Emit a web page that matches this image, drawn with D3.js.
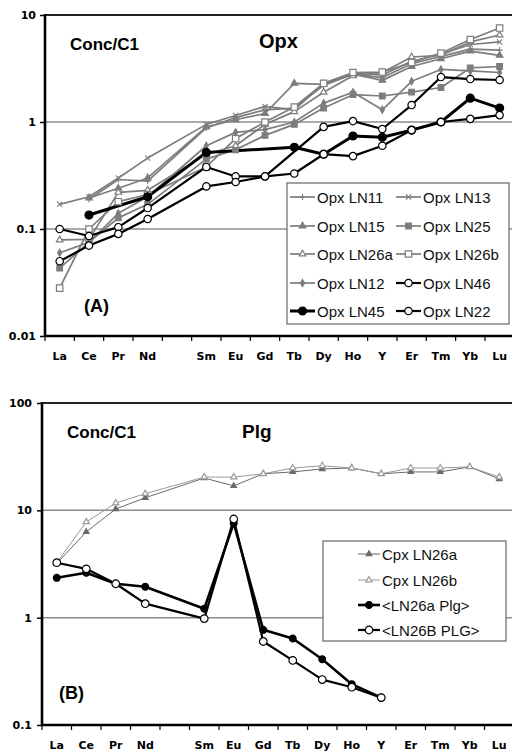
<!DOCTYPE html>
<html><head><meta charset="utf-8">
<script src="https://cdn.jsdelivr.net/npm/d3@7/dist/d3.min.js"></script>
<style>body{margin:0;background:#fff}svg{display:block}</style>
</head><body>
<svg id="c" width="512" height="754"></svg>
<script>
// ---------- DATA ----------
const categories = ["La","Ce","Pr","Nd","Pm","Sm","Eu","Gd","Tb","Dy","Ho","Y","Er","Tm","Yb","Lu"];
const tickLabels = ["La","Ce","Pr","Nd","","Sm","Eu","Gd","Tb","Dy","Ho","Y","Er","Tm","Yb","Lu"];
const topTicks = [0.01, 0.1, 1, 10];
const topTickLabels = ["0.01","0.1","1","10"];
const botTicks = [0.1, 1, 10, 100];
const botTickLabels = ["0.1","1","10","100"];

// Panel A : Opx
const opxLN11  = [null,0.19,0.29,0.28,null,0.88,1.1,1.3,1.35,2.2,2.8,2.6,3.5,4.1,4.8,4.7];
const opxLN13  = [0.17,0.2,0.3,0.46,null,0.95,1.15,1.4,1.3,2.3,2.85,2.75,3.7,4.3,5.3,5.6];
const opxLN15  = [null,0.195,0.24,0.3,null,0.9,1.05,1.2,2.3,2.25,2.8,2.45,3.3,3.9,4.6,4.2];
const opxLN25  = [0.043,0.075,0.127,0.17,null,0.45,0.55,0.75,0.95,1.35,1.8,1.75,1.9,2.1,3.2,3.3];
const opxLN26a = [0.079,0.08,0.22,0.23,null,0.5,0.6,0.95,1.25,1.9,2.7,2.9,4.05,4.2,5.6,6.5];
const opxLN26b = [0.028,0.1,0.18,0.21,null,0.38,0.7,1.0,1.38,2.3,2.9,2.93,3.6,4.4,5.9,7.55];
const opxLN12  = [0.06,0.075,0.14,0.2,null,0.6,0.8,0.85,1.0,1.5,1.9,1.3,2.4,3.1,3.0,2.9];
const opxLN46  = [0.1,0.086,0.104,0.157,null,0.38,0.31,0.31,null,0.9,1.02,0.86,1.44,2.63,2.52,2.47];
const opxLN45  = [null,0.135,null,0.2,null,0.52,null,null,0.58,0.5,0.74,0.72,0.84,1.0,1.67,1.35];
const opxLN22  = [0.05,0.07,0.09,0.124,null,0.25,0.275,0.31,0.33,0.5,0.48,0.6,0.84,1.0,1.07,1.16];

// Panel B : Plg
const cpxLN26a = [3.2,6.3,10.3,13.1,null,20,16.9,21.9,22.8,24.3,24.8,21.9,22.8,22.8,25.4,19.6];
const cpxLN26b = [3.25,7.8,11.7,14.3,null,20.4,20.4,21.9,24.8,26,24.8,21.9,24.8,24.8,25.4,20.4];
const plgLN26a = [2.35,2.62,2.07,1.94,null,1.21,7.6,0.77,0.64,0.41,0.24,0.18,null,null,null,null];
const plgLN26B = [3.25,2.85,2.07,1.35,null,0.98,8.3,0.6,0.4,0.265,0.225,0.18,null,null,null,null];

// ---------- STYLES ----------
const G = "#7d7d7d";
const topSeries = [
  {name:"Opx LN11", v:opxLN11, m:"plus", c:G, w:1.7, r:3},
  {name:"Opx LN13", v:opxLN13, m:"x", c:G, w:1.7, r:2.6},
  {name:"Opx LN15", v:opxLN15, m:"triF", c:G, w:1.7, r:3},
  {name:"Opx LN25", v:opxLN25, m:"sqF", c:G, w:1.7, r:2.8},
  {name:"Opx LN26a", v:opxLN26a, m:"triO", c:G, w:1.7, r:3},
  {name:"Opx LN26b", v:opxLN26b, m:"sqO", c:G, w:1.7, r:3.2},
  {name:"Opx LN12", v:opxLN12, m:"diaF", c:G, w:1.7, r:2.2},
  {name:"Opx LN46", v:opxLN46, m:"circO", c:"#000", w:2.2, r:3.7},
  {name:"Opx LN45", v:opxLN45, m:"circF", c:"#000", w:3, r:4},
  {name:"Opx LN22", v:opxLN22, m:"circO", c:"#000", w:2.2, r:3.7}
];
const botSeries = [
  {name:"Cpx LN26a", v:cpxLN26a, m:"triF", c:"#6a6a6a", w:1, r:2.5},
  {name:"Cpx LN26b", v:cpxLN26b, m:"triO", c:"#9a9a9a", w:1, r:2.8},
  {name:"<LN26a Plg>", v:plgLN26a, m:"circF", c:"#000", w:2.6, r:3.4},
  {name:"<LN26B PLG>", v:plgLN26B, m:"circO", c:"#000", w:2.2, r:3.8}
];

const svg = d3.select("#c");

function marker(g, type, x, y, color, r) {
  const s = g.append("g").attr("transform", `translate(${x},${y})`);
  if (type === "plus") {
    s.append("path").attr("d", `M${-r},0H${r}M0,${-r}V${r}`).attr("stroke", color).attr("stroke-width", 1.2).attr("fill","none");
  } else if (type === "x") {
    s.append("path").attr("d", `M${-r},${-r}L${r},${r}M${-r},${r}L${r},${-r}`).attr("stroke", color).attr("stroke-width", 1.1).attr("fill","none");
  } else {
    const map = {triF:[d3.symbolTriangle,true], triO:[d3.symbolTriangle,false], sqF:[d3.symbolSquare,true],
      sqO:[d3.symbolSquare,false], diaF:[d3.symbolDiamond,true], circF:[d3.symbolCircle,true], circO:[d3.symbolCircle,false]};
    const [sym, filled] = map[type];
    const area = sym === d3.symbolCircle ? Math.PI*r*r : sym === d3.symbolSquare ? 4*r*r : sym===d3.symbolDiamond ? 3*r*r : 2.1*r*r;
    s.append("path").attr("d", d3.symbol().type(sym).size(area)())
      .attr("fill", filled ? color : "#fff").attr("stroke", color).attr("stroke-width", 1.2);
  }
}

function panel(o) {
  const x = d3.scaleBand().domain(categories).range([o.left, o.left + 16*o.band]).padding(0);
  const y = d3.scaleLog().domain(o.domain).range([o.bottom, o.top]);
  const g = svg.append("g");

  g.selectAll(".grid").data(o.grid).join("line")
    .attr("x1", o.left).attr("x2", 512).attr("y1", d=>y(d)).attr("y2", d=>y(d))
    .attr("stroke", "#8c8c8c").attr("stroke-width", 1.5);
  g.append("line").attr("x1", o.left).attr("x2", 512).attr("y1", o.top).attr("y2", o.top)
    .attr("stroke", "#222").attr("stroke-width", 2);

  const line = d3.line().x(d=>x(d.c)+x.bandwidth()/2).y(d=>y(d.v));
  o.series.forEach(s => {
    const pts = categories.map((c,i)=>({c, v:s.v[i]})).filter(d=>d.v!=null);
    g.append("path").attr("d", line(pts)).attr("fill","none").attr("stroke", s.c).attr("stroke-width", s.w).attr("stroke-linejoin","round");
  });
  o.series.forEach(s => {
    const pts = categories.map((c,i)=>({c, v:s.v[i]})).filter(d=>d.v!=null);
    pts.forEach(p => marker(g, s.m, x(p.c)+x.bandwidth()/2, y(p.v), s.c, s.r));
  });

  const ya = d3.axisLeft(y).tickValues(o.ticks).tickFormat((d,i)=>o.tickLabels[i]).tickSize(5).tickPadding(o.ypad);
  const yg = g.append("g").attr("transform", `translate(${o.left},0)`).call(ya);
  yg.select(".domain").remove();
  yg.selectAll(".tick line").attr("stroke","#000").attr("stroke-width",1.5);
  yg.selectAll("text").attr("font-family","DejaVu Sans").attr("font-weight","bold").attr("font-size",11).attr("fill","#000");
  g.append("line").attr("x1", o.left).attr("x2", o.left).attr("y1", o.top-1).attr("y2", o.bottom+1)
    .attr("stroke","#000").attr("stroke-width",2.6);

  g.append("line").attr("x1", o.left).attr("x2", 512).attr("y1", o.bottom).attr("y2", o.bottom)
    .attr("stroke","#000").attr("stroke-width",2.6);
  const bounds = categories.map(c=>x(c)).concat([x(categories[15])+x.bandwidth()]);
  g.selectAll(".xt").data(bounds).join("line").attr("x1",d=>d).attr("x2",d=>d)
    .attr("y1", o.bottom).attr("y2", o.bottom+5).attr("stroke","#000").attr("stroke-width",1.2);
  g.selectAll(".xl").data(categories).join("text")
    .attr("x", d=>x(d)+x.bandwidth()/2).attr("y", o.bottom+o.xlabOff)
    .attr("text-anchor","middle").attr("font-family","DejaVu Sans").attr("font-weight","bold").attr("font-size",11)
    .text((d,i)=>tickLabels[i]);

  o.texts.forEach(t => g.append("text").attr("x",t.x).attr("y",t.y).attr("font-family","Liberation Sans, Arial")
    .attr("font-weight","bold").attr("font-size",t.s).text(t.t));

  const L = o.legend;
  g.append("rect").attr("x",L.x).attr("y",L.y).attr("width",L.w).attr("height",L.h)
    .attr("fill","#fff").attr("stroke","#666").attr("stroke-width",1.2);
  L.items.forEach(it => {
    const s = o.series[it.i];
    g.append("line").attr("x1",it.x).attr("x2",it.x+L.len).attr("y1",it.y).attr("y2",it.y)
      .attr("stroke",s.c).attr("stroke-width",s.w);
    marker(g, s.m, it.x+L.len/2, it.y, s.c, s.r);
    g.append("text").attr("x", it.x+L.len+2).attr("y", it.y+5.5).attr("font-family","Liberation Sans, Arial")
      .attr("font-size",15).attr("fill","#111").text(s.name);
  });
}

panel({
  left:45, band:29.33, top:15, bottom:336, domain:[0.01,10], grid:[0.1,1],
  ticks:topTicks, tickLabels:topTickLabels, ypad:4, xlabOff:24,
  series: topSeries,
  texts:[{t:"Conc/C1",x:70,y:50,s:17},{t:"Opx",x:259,y:48,s:20},{t:"(A)",x:84,y:312,s:18}],
  legend:{x:287,y:183,w:222,h:141,len:25,items:[
    {i:0,x:290,y:197},{i:1,x:396,y:197},
    {i:2,x:290,y:226},{i:3,x:396,y:226},
    {i:4,x:290,y:254},{i:5,x:396,y:254},
    {i:6,x:290,y:283},{i:7,x:396,y:283},
    {i:8,x:290,y:311},{i:9,x:396,y:311}]}
});

panel({
  left:42, band:29.5, top:403, bottom:725, domain:[0.1,100], grid:[1,10],
  ticks:botTicks, tickLabels:botTickLabels, ypad:5, xlabOff:24,
  series: botSeries,
  texts:[{t:"Conc/C1",x:67,y:438,s:17},{t:"Plg",x:242,y:438,s:19},{t:"(B)",x:59,y:699,s:18}],
  legend:{x:323,y:541,w:183,h:100,len:22,items:[
    {i:0,x:358,y:554},{i:1,x:358,y:580},{i:2,x:358,y:605},{i:3,x:358,y:630}]}
});
</script>
</body></html>
